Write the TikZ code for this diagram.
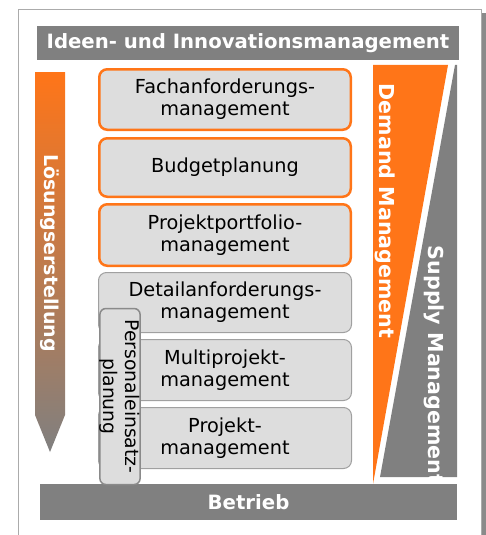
\documentclass[tikz,border=0pt]{standalone}
\usepackage{fontspec}
\setmainfont{DejaVu Sans}
\definecolor{orng}{HTML}{FF7518}
\definecolor{bargray}{HTML}{808080}
\definecolor{boxfill}{HTML}{DDDDDD}
\definecolor{boxline}{HTML}{A0A0A0}
\definecolor{framegray}{HTML}{ABABAB}
\definecolor{shadowgray}{HTML}{8A8A8A}
\tikzset{
  bar/.style={fill=bargray, text=white, font=\fontsize{19.7}{22}\selectfont\bfseries, inner sep=0pt},
  obox/.style={draw=orng, line width=2.5pt, fill=boxfill, rounded corners=8pt, minimum width=251.5pt, align=center, font=\fontsize{19.3}{22}\selectfont, inner sep=0pt},
  gbox/.style={draw=boxline, line width=1pt, fill=boxfill, rounded corners=8pt, minimum width=253pt, align=center, font=\fontsize{19.3}{22}\selectfont, inner sep=0pt},
  pbox/.style={draw=shadowgray, line width=1.5pt, fill=boxfill, rounded corners=6pt, align=center, font=\fontsize{18.8}{22}\selectfont, inner sep=0pt},
  vlabel/.style={text=white, font=\fontsize{19}{22}\selectfont\bfseries, rotate=-90, inner sep=0pt}
}
\begin{document}
\begin{tikzpicture}[x=1pt,y=-1pt]
\useasboundingbox (0,0) rectangle (486,535);
% frame with shadow
\fill[shadowgray] (481,13) rectangle (486,535);
\draw[framegray, line width=1pt] (18,535) -- (18,10) -- (481,10) -- (481,535);
% title bar
\node[bar, minimum width=422pt, minimum height=34pt] (title) at (248,43) {Ideen- und Innovationsmanagement};
% Betrieb bar
\node[bar, minimum width=417pt, minimum height=36pt] (betrieb) at (248.5,502) {Betrieb};
% left gradient arrow
\shade[top color=orng, bottom color=bargray] (35,72) -- (65,72) -- (65,415) -- (50,452) -- (35,415) -- cycle;
\node[vlabel] (loes) at (50,253) {Lösungserstellung};
% demand / supply
\fill[orng] (373,65) -- (448,65) -- (373,484) -- cycle;
\fill[bargray] (455,65) -- (457,65) -- (457,477) -- (380,477) -- cycle;
\node[vlabel, font=\fontsize{20.6}{22}\selectfont\bfseries] (demand) at (385,211) {Demand Management};
\node[vlabel, font=\fontsize{20.6}{22}\selectfont\bfseries] (supply) at (434,365) {Supply Management};
% boxes
\node[obox, minimum height=60.5pt] (fach) at (225,99.5) {Fachanforderungs-\\management};
\node[obox, minimum height=58.5pt] (budget) at (225,167.5) {Budgetplanung};
\node[obox, minimum height=61.5pt] (ppm) at (225,235) {Projektportfolio-\\management};
\node[gbox, minimum height=60pt] (detail) at (225,302.5) {Detailanforderungs-\\management};
\node[gbox, minimum height=61pt] (multi) at (225,370) {Multiprojekt-\\management};
\node[gbox, minimum height=61pt] (proj) at (225,438) {Projekt-\\management};
\node[pbox, rotate=-90, minimum width=176pt, minimum height=39pt] (pers) at (120,396.5) {Personaleinsatz-\\planung};
\end{tikzpicture}
\end{document}
